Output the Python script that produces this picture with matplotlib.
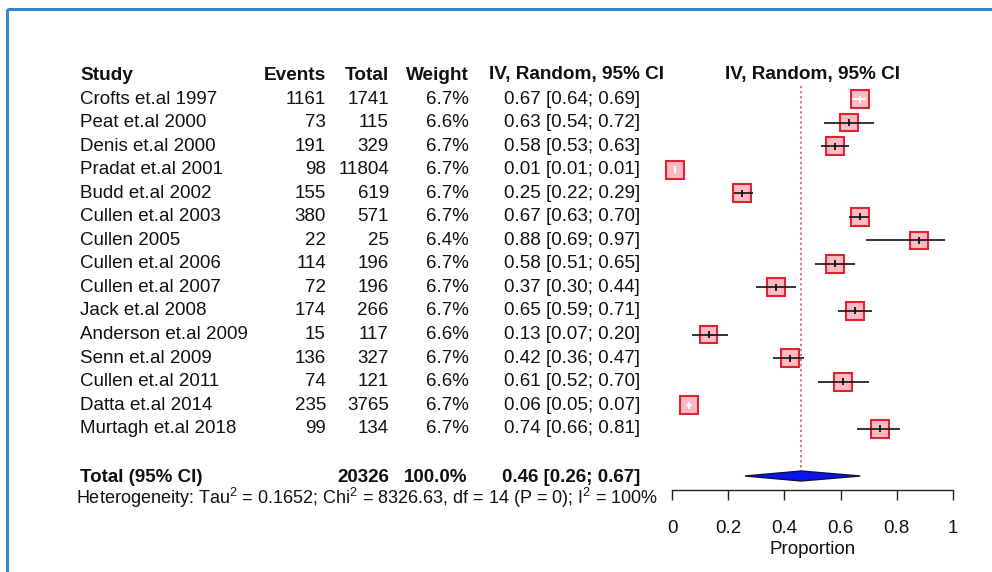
import matplotlib
matplotlib.use("Agg")
import matplotlib.pyplot as plt
from matplotlib.patches import Polygon, Rectangle
import numpy as np

plt.rcParams['font.family'] = ['Liberation Sans', 'DejaVu Sans']
plt.rcParams['mathtext.fontset'] = 'custom'
plt.rcParams['mathtext.rm'] = 'Liberation Sans'
plt.rcParams['mathtext.it'] = 'Liberation Sans:italic'
plt.rcParams['mathtext.bf'] = 'Liberation Sans:bold'

# ---------------- data ----------------
studies = ["Crofts et.al 1997", "Peat et.al 2000", "Denis et.al 2000", "Pradat et.al 2001",
           "Budd et.al 2002", "Cullen et.al 2003", "Cullen 2005", "Cullen et.al 2006",
           "Cullen et.al 2007", "Jack et.al 2008", "Anderson et.al 2009", "Senn et.al 2009",
           "Cullen et.al 2011", "Datta et.al 2014", "Murtagh et.al 2018"]
events = [1161, 73, 191, 98, 155, 380, 22, 114, 72, 174, 15, 136, 74, 235, 99]
totals = [1741, 115, 329, 11804, 619, 571, 25, 196, 196, 266, 117, 327, 121, 3765, 134]
weights = [6.7, 6.6, 6.7, 6.7, 6.7, 6.7, 6.4, 6.7, 6.7, 6.7, 6.6, 6.7, 6.6, 6.7, 6.7]
est = [0.67, 0.63, 0.58, 0.01, 0.25, 0.67, 0.88, 0.58, 0.37, 0.65, 0.13, 0.42, 0.61, 0.06, 0.74]
lower = [0.64, 0.54, 0.53, 0.01, 0.22, 0.63, 0.69, 0.51, 0.30, 0.59, 0.07, 0.36, 0.52, 0.05, 0.66]
upper = [0.69, 0.72, 0.63, 0.01, 0.29, 0.70, 0.97, 0.65, 0.44, 0.71, 0.20, 0.47, 0.70, 0.07, 0.81]
total_n = 20326
total_weight = "100.0%"
pooled_est, pooled_lo, pooled_hi = 0.46, 0.26, 0.67
het_text = ("Heterogeneity: Tau$^2$ = 0.1652; Chi$^2$ = 8326.63, df = 14 (P = 0); "
            "I$^2$ = 100%")
xticks = [0, 0.2, 0.4, 0.6, 0.8, 1]
xticklabels = ["0", "0.2", "0.4", "0.6", "0.8", "1"]
xlabel = "Proportion"

# ---------------- layout (pixels) ----------------
W, H = 992, 572
fig = plt.figure(figsize=(W / 100, H / 100), dpi=100)
bg = fig.add_axes([0, 0, 1, 1])
bg.set_xlim(0, W)
bg.set_ylim(H, 0)
bg.axis('off')

# blue frame
bg.add_patch(Rectangle((7, 9), W + 20, H + 20, fill=False, edgecolor='#3585cc', lw=2.2))

FS = 13.5
FSB = 13.7
TC = '#111111'
y_head = 75
y0, dy = 99, 23.55
y_tot = 478
y_het = 498

x_study = 80
x_events = 326
x_total = 389
x_weight = 469
x_ci = 640
x_ci_head = 664

bg.text(x_study, y_head, "Study", fontsize=FSB, fontweight='bold', va='center', ha='left', color=TC)
bg.text(x_events, y_head, "Events", fontsize=FSB, fontweight='bold', va='center', ha='right', color=TC)
bg.text(x_total, y_head, "Total", fontsize=FSB, fontweight='bold', va='center', ha='right', color=TC)
bg.text(x_weight, y_head, "Weight", fontsize=FSB, fontweight='bold', va='center', ha='right', color=TC)
bg.text(x_ci_head, y_head, "IV, Random, 95% CI", fontsize=FSB, fontweight='bold', va='center', ha='right', color=TC)

rows_y = [y0 + i * dy for i in range(len(studies))]
for i, yy in enumerate(rows_y):
    bg.text(x_study, yy, studies[i], fontsize=FS, va='center', ha='left', color=TC)
    bg.text(x_events, yy, f"{events[i]}", fontsize=FS, va='center', ha='right', color=TC)
    bg.text(x_total, yy, f"{totals[i]}", fontsize=FS, va='center', ha='right', color=TC)
    bg.text(x_weight, yy, f"{weights[i]:.1f}%", fontsize=FS, va='center', ha='right', color=TC)
    bg.text(x_ci, yy, f"{est[i]:.2f} [{lower[i]:.2f}; {upper[i]:.2f}]", fontsize=FS,
            va='center', ha='right', color=TC)

bg.text(x_study, y_tot, "Total (95% CI)", fontsize=FS, fontweight='bold', va='center', ha='left', color=TC)
bg.text(x_total, y_tot, f"{total_n}", fontsize=FS, fontweight='bold', va='center', ha='right', color=TC)
bg.text(x_weight - 2, y_tot, total_weight, fontsize=FS, fontweight='bold', va='center', ha='right', color=TC)
bg.text(x_ci, y_tot, f"{pooled_est:.2f} [{pooled_lo:.2f}; {pooled_hi:.2f}]", fontsize=FS,
        fontweight='bold', va='center', ha='right', color=TC)
bg.text(76, y_het, het_text, fontsize=13.0, va='center', ha='left', color=TC)

# ---------------- forest panel ----------------
px0, px1 = 672, 953
ax = fig.add_axes([px0 / W, 0, (px1 - px0) / W, 1])
ax.set_xlim(0, 1)
ax.set_ylim(H, 0)
ax.patch.set_alpha(0)
for s in ['top', 'right', 'left']:
    ax.spines[s].set_visible(False)
ax.spines['bottom'].set_position(('data', 490))
ax.spines['bottom'].set_bounds(0, 1)
ax.spines['bottom'].set_color('#222222')
ax.spines['bottom'].set_linewidth(1.0)
ax.set_yticks([])
ax.set_xticks(xticks)
ax.set_xticklabels(xticklabels)
ax.tick_params(axis='x', direction='out', length=7.5, width=1.0, pad=14,
               labelsize=FS, colors='#222222', labelcolor=TC)

# header above the plot
ax.text(0.5, y_head, "IV, Random, 95% CI", fontsize=FSB, fontweight='bold',
        ha='center', va='center', color=TC)

# reference line (pooled estimate)
ax.vlines(pooled_est, 86, 471, colors='#d9666a', linestyles=(0, (1.2, 1.6)), lw=1.3, zorder=1)

box_px = 18.0
ppd = (px1 - px0)  # pixels per data unit
for i, yy in enumerate(rows_y):
    side = box_px * np.sqrt(weights[i] / max(weights))
    half = side / 2 / ppd
    inside = (est[i] - lower[i]) < half and (upper[i] - est[i]) < half
    lc = 'white' if inside else '#111111'
    ax.add_patch(Rectangle((est[i] - half, yy - side / 2), 2 * half, side,
                           facecolor='#ffbac4', edgecolor='#dd2530', lw=1.5, zorder=2,
                           clip_on=False))
    ax.hlines(yy, lower[i], upper[i], colors=lc, lw=1.2, zorder=3, clip_on=False)
    ax.vlines(est[i], yy - 3.5, yy + 3.5, colors=lc, lw=1.3, zorder=3, clip_on=False)

# pooled diamond
yd = 476
hd = 5
ax.add_patch(Polygon([(pooled_lo, yd), (pooled_est, yd - hd), (pooled_hi, yd), (pooled_est, yd + hd)],
                     closed=True, facecolor='#0a14f0', edgecolor='#101040', lw=1.0, zorder=3))

ax.text(0.5, 549, xlabel, fontsize=FS, ha='center', va='center', color=TC)

fig.savefig("out.png", dpi=100)
